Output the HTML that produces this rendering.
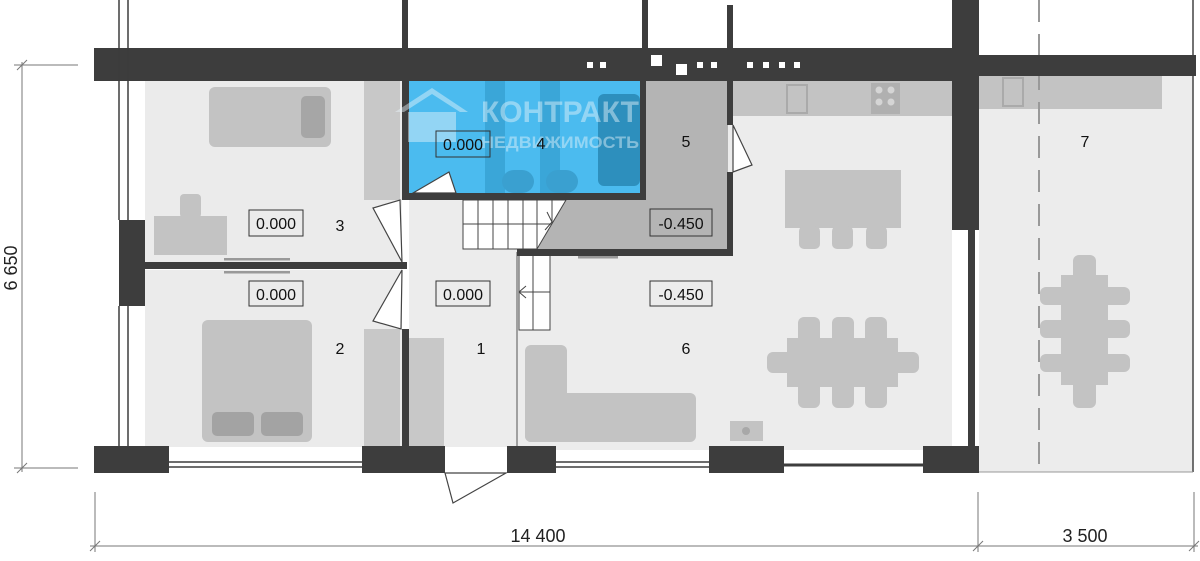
<!DOCTYPE html>
<html><head><meta charset="utf-8"><style>
html,body{margin:0;padding:0;background:#fff;}
svg{display:block;}
text{font-family:"Liberation Sans","DejaVu Sans",sans-serif;}
</style></head><body>
<svg width="1200" height="561" viewBox="0 0 1200 561" xmlns="http://www.w3.org/2000/svg">
<!-- floors -->
<rect x="145" y="81" width="257" height="181" fill="#ebebeb"/>
<rect x="145" y="270" width="257" height="177" fill="#ebebeb"/>
<rect x="409" y="198" width="108" height="249" fill="#ececec"/>
<rect x="517" y="81" width="435" height="369" fill="#ececec"/>
<rect x="979" y="75" width="214" height="397" fill="#ececec"/>
<line x1="1193" y1="0" x2="1193" y2="472" stroke="#444" stroke-width="1.5"/>
<line x1="979" y1="472" x2="1193" y2="472" stroke="#999" stroke-width="1"/>
<rect x="952" y="228" width="16" height="218" fill="#fff"/>
<!-- room 4 blue -->
<rect x="408" y="81" width="232" height="112" fill="#4bbbef"/>
<rect x="485" y="81" width="20" height="112" fill="#3aa6d8"/>
<rect x="540" y="81" width="20" height="112" fill="#3aa6d8"/>
<rect x="598" y="94" width="42" height="92" rx="6" fill="#2d8fbd"/>
<rect x="502" y="170" width="32" height="23" rx="12" fill="#3aa0d0"/>
<rect x="546" y="170" width="32" height="23" rx="12" fill="#3aa0d0"/>
<!-- room 5 grey -->
<polygon points="640,81 728,81 728,250 537,250 566,200 640,200" fill="#b4b4b4"/>
<!-- furniture -->
<rect x="364" y="81" width="36" height="119" fill="#c8c8c8"/>
<rect x="209" y="87" width="122" height="60" rx="6" fill="#c3c3c3"/>
<rect x="301" y="96" width="24" height="42" rx="5" fill="#a6a6a6"/>
<rect x="154" y="216" width="73" height="39" fill="#c3c3c3"/>
<rect x="180" y="194" width="21" height="24" rx="4" fill="#c3c3c3"/>
<rect x="224" y="258" width="66" height="2.5" fill="#999"/>
<rect x="224" y="271" width="66" height="2.5" fill="#999"/>
<rect x="202" y="320" width="110" height="122" rx="6" fill="#c3c3c3"/>
<rect x="212" y="412" width="42" height="24" rx="5" fill="#a3a3a3"/>
<rect x="261" y="412" width="42" height="24" rx="5" fill="#a3a3a3"/>
<rect x="364" y="329" width="36" height="118" fill="#c8c8c8"/>
<rect x="409" y="338" width="35" height="109" fill="#c8c8c8"/>
<rect x="733" y="81" width="219" height="35" fill="#c3c3c3"/>
<rect x="979" y="75" width="183" height="34" fill="#c3c3c3"/>
<rect x="787" y="85" width="20" height="28" fill="none" stroke="#aaa" stroke-width="2"/>
<rect x="1003" y="78" width="20" height="28" fill="none" stroke="#aaa" stroke-width="2"/>
<rect x="871" y="83" width="29" height="31" fill="#b0b0b0"/>
<circle cx="879" cy="90" r="3.5" fill="#d5d5d5"/><circle cx="891" cy="90" r="3.5" fill="#d5d5d5"/>
<circle cx="879" cy="102" r="3.5" fill="#d5d5d5"/><circle cx="891" cy="102" r="3.5" fill="#d5d5d5"/>
<rect x="785" y="170" width="116" height="58" fill="#c3c3c3"/>
<rect x="799" y="226" width="21" height="23" rx="5" fill="#c3c3c3"/>
<rect x="832" y="226" width="21" height="23" rx="5" fill="#c3c3c3"/>
<rect x="866" y="226" width="21" height="23" rx="5" fill="#c3c3c3"/>
<rect x="578" y="256" width="40" height="2.5" fill="#999"/>
<!-- sofa -->
<rect x="525" y="345" width="42" height="97" rx="6" fill="#c3c3c3"/>
<rect x="525" y="393" width="171" height="49" rx="6" fill="#c3c3c3"/>
<rect x="730" y="421" width="33" height="20" fill="#c3c3c3"/>
<circle cx="746" cy="431" r="4" fill="#a8a8a8"/>
<!-- dining 6 -->
<rect x="787" y="338" width="111" height="49" fill="#c3c3c3"/>
<rect x="767" y="352" width="152" height="21" rx="6" fill="#c3c3c3"/>
<rect x="798" y="317" width="22" height="91" rx="6" fill="#c3c3c3"/>
<rect x="832" y="317" width="22" height="91" rx="6" fill="#c3c3c3"/>
<rect x="865" y="317" width="22" height="91" rx="6" fill="#c3c3c3"/>
<!-- terrace table -->
<rect x="1061" y="275" width="47" height="110" fill="#c3c3c3"/>
<rect x="1073" y="255" width="23" height="153" rx="6" fill="#c3c3c3"/>
<rect x="1040" y="287" width="90" height="18" rx="6" fill="#c3c3c3"/>
<rect x="1040" y="320" width="90" height="18" rx="6" fill="#c3c3c3"/>
<rect x="1040" y="354" width="90" height="18" rx="6" fill="#c3c3c3"/>
<line x1="1039" y1="0" x2="1039" y2="472" stroke="#999" stroke-width="2" stroke-dasharray="22,12"/>
<!-- stairs -->
<g stroke="#444" stroke-width="1" fill="#fff">
<polygon points="463,200 566,200 537,249 463,249"/>
<line x1="463" y1="224" x2="551" y2="224"/>
<line x1="478" y1="200" x2="478" y2="249"/><line x1="493" y1="200" x2="493" y2="249"/>
<line x1="508" y1="200" x2="508" y2="249"/><line x1="523" y1="200" x2="523" y2="249"/>
<line x1="537" y1="200" x2="537" y2="249"/><line x1="552" y1="200" x2="552" y2="224"/>
<rect x="519" y="252" width="31" height="78"/>
<line x1="533" y1="252" x2="533" y2="330"/><line x1="519" y1="292" x2="550" y2="292"/>
<polyline points="547,212 552,222 545,230" fill="none"/>
<polyline points="526,286 519,292 526,298" fill="none"/>
</g>
<line x1="517" y1="252" x2="517" y2="447" stroke="#555" stroke-width="1"/>
<!-- door swings -->
<g stroke="#444" stroke-width="1.2" fill="#fff">
<polygon points="402,262 373,208 400,200"/>
<polygon points="402,270 373,321 401,329"/>
<polygon points="413,193 449,172 456,193"/>
<polygon points="733,125 733,172 752,165"/>
<polygon points="445,473 453,503 506,473"/>
</g>
<!-- walls -->
<g fill="#3d3d3d">
<rect x="94" y="48" width="884" height="33"/>
<rect x="979" y="55" width="217" height="21"/>
<rect x="952" y="0" width="27" height="230"/>
<rect x="402" y="0" width="6" height="48"/>
<rect x="642" y="0" width="6" height="48"/>
<rect x="727" y="5" width="6" height="43"/>
<rect x="402" y="81" width="7" height="119"/>
<rect x="402" y="193" width="238" height="7"/>
<rect x="640" y="81" width="6" height="119"/>
<rect x="727" y="81" width="6" height="44"/>
<rect x="727" y="172" width="6" height="84"/>
<rect x="517" y="249" width="216" height="7"/>
<rect x="145" y="262" width="262" height="7"/>
<rect x="119" y="220" width="26" height="86"/>
<rect x="402" y="329" width="7" height="118"/>
<rect x="94" y="446" width="75" height="27"/>
<rect x="362" y="446" width="83" height="27"/>
<rect x="507" y="446" width="49" height="27"/>
<rect x="709" y="446" width="75" height="27"/>
<rect x="923" y="446" width="56" height="27"/>
<rect x="968" y="228" width="7" height="218"/>
</g>
<!-- thin window lines -->
<g stroke="#3d3d3d" stroke-width="1.5" fill="none">
<line x1="119" y1="0" x2="119" y2="220"/><line x1="128" y1="0" x2="128" y2="220"/>
<line x1="119" y1="306" x2="119" y2="446"/><line x1="128" y1="306" x2="128" y2="446"/>
<line x1="169" y1="462" x2="362" y2="462"/><line x1="169" y1="467" x2="362" y2="467"/>
<line x1="556" y1="462" x2="709" y2="462"/><line x1="556" y1="467" x2="709" y2="467"/>
<line x1="784" y1="465" x2="923" y2="465" stroke-width="3"/>
</g>
<!-- small squares -->
<g fill="#fff">
<rect x="587" y="62" width="6" height="6"/><rect x="600" y="62" width="6" height="6"/>
<rect x="651" y="55" width="11" height="11"/><rect x="676" y="64" width="11" height="11"/>
<rect x="697" y="62" width="6" height="6"/><rect x="711" y="62" width="6" height="6"/>
<rect x="747" y="62" width="6" height="6"/><rect x="763" y="62" width="6" height="6"/>
<rect x="779" y="62" width="6" height="6"/><rect x="794" y="62" width="6" height="6"/>
</g>
<!-- watermark -->
<g opacity="0.45" fill="#eaf6fc">
<polygon points="395,112 432,88 468,112 460,112 432,94 404,112"/>
<rect x="408" y="112" width="48" height="30"/>
<text x="481" y="122" font-size="30" font-weight="bold" textLength="158" lengthAdjust="spacingAndGlyphs">КОНТРАКТ</text>
<text x="481" y="148" font-size="17" font-weight="bold" textLength="158" lengthAdjust="spacingAndGlyphs">НЕДВИЖИМОСТЬ</text>
</g>
<!-- labels -->
<g font-size="16" fill="#111" text-anchor="middle">
<g stroke="#333" stroke-width="1" fill="none">
<rect x="436" y="131" width="54" height="26"/><rect x="249" y="210" width="54" height="26"/>
<rect x="650" y="209" width="62" height="27"/><rect x="249" y="281" width="54" height="25"/>
<rect x="436" y="281" width="54" height="25"/><rect x="650" y="281" width="62" height="25"/>
</g>
<text x="463" y="150">0.000</text><text x="276" y="229">0.000</text>
<text x="681" y="229">-0.450</text><text x="276" y="300">0.000</text>
<text x="463" y="300">0.000</text><text x="681" y="300">-0.450</text>
<text x="541" y="149">4</text><text x="686" y="147">5</text><text x="1085" y="147">7</text>
<text x="340" y="231">3</text><text x="340" y="354">2</text><text x="481" y="354">1</text><text x="686" y="354">6</text>
</g>
<!-- dimensions -->
<g stroke="#777" stroke-width="1" fill="none">
<line x1="22" y1="62" x2="22" y2="472"/>
<line x1="14" y1="65" x2="78" y2="65"/><line x1="14" y1="468" x2="78" y2="468"/>
<line x1="17" y1="70" x2="27" y2="60"/><line x1="17" y1="473" x2="27" y2="463"/>
<line x1="90" y1="546" x2="1198" y2="546"/>
<line x1="95" y1="492" x2="95" y2="552"/><line x1="978" y1="492" x2="978" y2="552"/><line x1="1194" y1="492" x2="1194" y2="552"/>
<line x1="90" y1="551" x2="100" y2="541"/><line x1="973" y1="551" x2="983" y2="541"/><line x1="1189" y1="551" x2="1199" y2="541"/>
</g>
<g font-size="18" fill="#222" text-anchor="middle">
<text x="538" y="542">14 400</text><text x="1085" y="542">3 500</text>
<text transform="translate(17,268) rotate(-90)">6 650</text>
</g>
</svg>
</body></html>
